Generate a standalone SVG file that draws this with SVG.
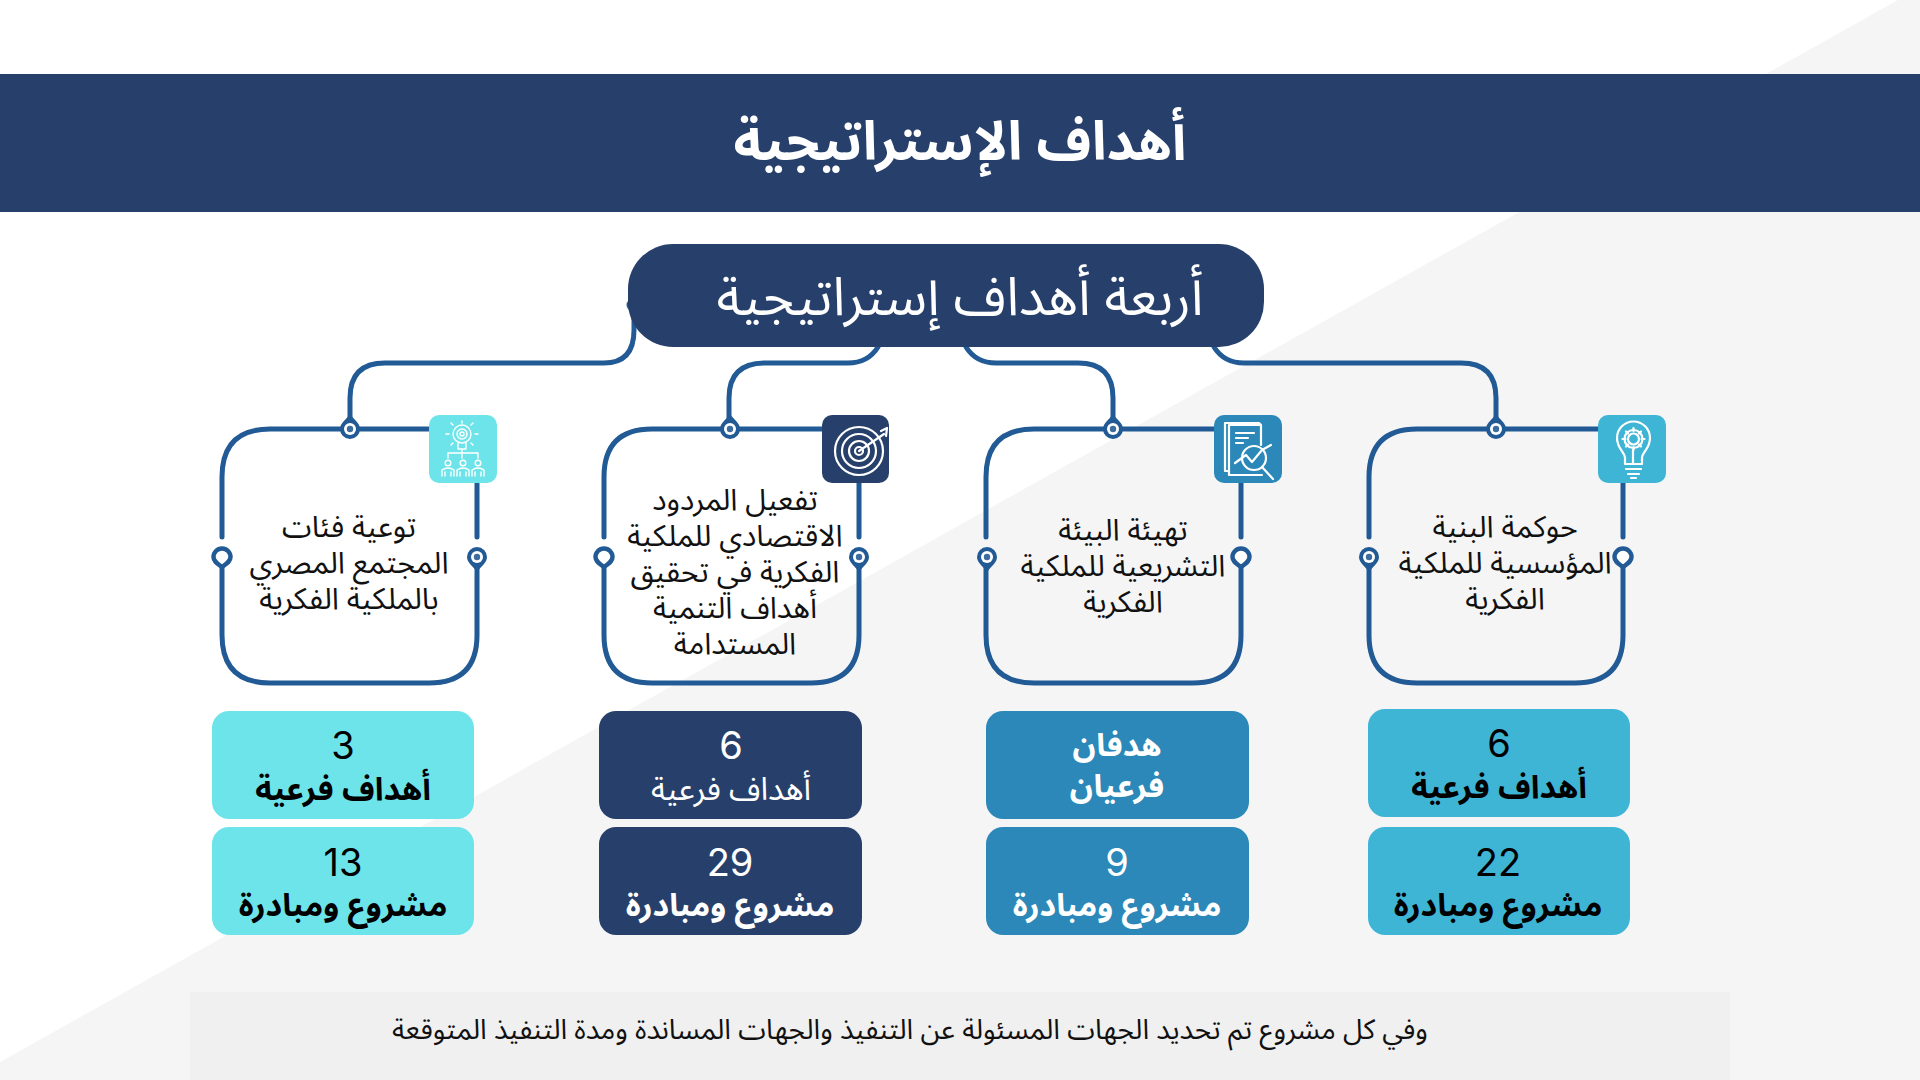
<svg xmlns="http://www.w3.org/2000/svg" width="1920" height="1080" viewBox="0 0 1920 1080">
<defs><style>
text{font-family:"Noto Sans Arabic","Noto Sans","DejaVu Sans",sans-serif;text-anchor:middle;direction:rtl}
.title{font-size:54px;font-weight:700;fill:#fff}
.pill{font-size:53.5px;fill:#fff}
.body{font-size:30px;fill:#111}
.num{font-family:"Inter","Open Sans",sans-serif;font-size:38px}
.sub{font-size:32px;font-weight:700}
.thin{font-size:32px;font-weight:400}
.foot{font-size:28px;fill:#111}
.w{fill:#fff}.k{fill:#000}
.line{fill:none;stroke:#215a94;stroke-width:5;stroke-linecap:round}
.icon{fill:none;stroke:#fff;stroke-width:2.2;stroke-linecap:round;stroke-linejoin:round}
</style>
<g id="pin-thick"><path d="M-10 0A10 10 0 0 0 10 0C10 -6 4 -9 0 -15C-4 -9 -10 -6 -10 0Z" fill="#215a94"/><circle r="6" fill="#fff"/><circle r="3.2" fill="#3d6d9f"/></g>
<path id="pin-thin" d="M-8.5 0A8.5 8.5 0 0 0 8.5 0C8.5 -4.5 4 -7 0 -10C-4 -7 -8.5 -4.5 -8.5 0Z" fill="#fff" stroke="#215a94" stroke-width="4.5"/>
</defs>
<rect id="bg" width="1920" height="1080" fill="#fff"/>
<polygon id="bg-diagonal" points="1898,0 1920,0 1920,1080 0,1080 0,1062" fill="#f5f5f6"/>
<g id="header"><rect y="74" width="1920" height="138" fill="#27406b"/><text class="title" x="960" y="160">أهداف الإستراتيجية</text></g>
<g id="connectors">
<path class="line" d="M634 305V330Q634 363 604 363H385Q350 363 350 398V429"/>
<circle cx="633" cy="305" r="6.5" fill="#215a94"/>
<path class="line" d="M878 347Q868 363 848 363H765Q729 363 729 398V429"/>
<path class="line" d="M966 347Q976 363 996 363H1078Q1113 363 1113 398V429"/>
<path class="line" d="M1214 347Q1224 363 1244 363H1461Q1496 363 1496 398V429"/>
</g>
<g id="root"><rect x="628" y="244" width="636" height="103" rx="45" fill="#27406b"/><text class="pill" x="960" y="315">أربعة أهداف إستراتيجية</text></g>
<g id="goal-1">
<path class="line" d="M429 429H270Q222 429 222 477V537M222 567V635Q222 683 270 683H429Q477 683 477 635V567M477 537V483"/>
<use href="#pin-thick" x="350" y="429"/>
<use href="#pin-thin" transform="translate(222 557) rotate(180)"/>
<use href="#pin-thick" transform="translate(477 557) rotate(180)"/>
<rect x="429" y="415" width="68" height="68" rx="10" fill="#6de4ea"/>
<g class="icon" style="stroke-width:1.4"><circle cx="462" cy="434" r="9"/><circle cx="462" cy="434" r="5"/><circle cx="462" cy="434" r="2"/><path d="M458 443V449H466V443M462 449V453M448 458V453H478V458M462 453V458M462 421V423M449 434H446M475 434H478M453 425L451 423M471 425L473 423M453 443L451 445M471 443L473 445"/><circle cx="448" cy="463" r="2.8"/><circle cx="463" cy="463" r="2.8"/><circle cx="478" cy="463" r="2.8"/><path d="M442 476V470Q448 466 454 470V476M457 476V470Q463 466 469 470V476M472 476V470Q478 466 484 470V476M445 476V472M451 476V472M460 476V472M466 476V472M475 476V472M481 476V472"/></g>
<text class="body"><tspan x="349" y="537">توعية فئات</tspan><tspan x="349" y="573">المجتمع المصري</tspan><tspan x="349" y="609">بالملكية الفكرية</tspan></text>
<rect x="212" y="711" width="262" height="108" rx="17" fill="#6de4ea"/><text class="k"><tspan class="num" x="343" y="759">3</tspan><tspan class="sub" x="343" y="800">أهداف فرعية</tspan></text>
<rect x="212" y="827" width="262" height="108" rx="17" fill="#6de4ea"/><text class="k"><tspan class="num" x="343" y="876" direction="ltr">13</tspan><tspan class="sub" x="343" y="916">مشروع ومبادرة</tspan></text>
</g>
<g id="goal-2">
<path class="line" d="M822 429H652Q604 429 604 477V537M604 567V635Q604 683 652 683H811Q859 683 859 635V567M859 537V483"/>
<use href="#pin-thick" x="730" y="429"/>
<use href="#pin-thin" transform="translate(604 557) rotate(180)"/>
<use href="#pin-thick" transform="translate(859 557) rotate(180)"/>
<rect x="822" y="415" width="67" height="68" rx="10" fill="#27406b"/>
<g class="icon"><circle cx="859" cy="451" r="24"/><circle cx="859" cy="451" r="17"/><circle cx="859" cy="451" r="10"/><circle cx="859" cy="451" r="4"/><path d="M859 451L884 434M881 431L887 428L886 436"/></g>
<text class="body"><tspan x="735" y="510">تفعيل المردود</tspan><tspan x="735" y="546">الاقتصادي للملكية</tspan><tspan x="735" y="582">الفكرية في تحقيق</tspan><tspan x="735" y="618">أهداف التنمية</tspan><tspan x="735" y="654">المستدامة</tspan></text>
<rect x="599" y="711" width="263" height="108" rx="17" fill="#27406b"/><text class="w"><tspan class="num" x="731" y="759">6</tspan><tspan class="thin" x="731" y="800">أهداف فرعية</tspan></text>
<rect x="599" y="827" width="263" height="108" rx="17" fill="#27406b"/><text class="w"><tspan class="num" x="730" y="876" direction="ltr">29</tspan><tspan class="sub" x="730" y="916">مشروع ومبادرة</tspan></text>
</g>
<g id="goal-3">
<path class="line" d="M1214 429H1034Q986 429 986 477V537M986 567V635Q986 683 1034 683H1193Q1241 683 1241 635V567M1241 537V483"/>
<use href="#pin-thick" x="1113" y="429"/>
<use href="#pin-thick" transform="translate(987 557) rotate(180)"/>
<use href="#pin-thin" transform="translate(1241 557) rotate(180)"/>
<rect x="1214" y="415" width="68" height="68" rx="10" fill="#2b88b8"/>
<g class="icon"><path d="M1229 471H1225V423H1259L1261 425M1229 425H1261V445M1229 425V475H1262"/><path d="M1236 433H1254M1236 438H1248M1236 443H1243"/><circle cx="1254" cy="458" r="12"/><path d="M1235 463L1246 455L1252 462L1262 450L1271 445M1262 467L1273 479"/></g>
<text class="body"><tspan x="1123" y="540">تهيئة البيئة</tspan><tspan x="1123" y="576">التشريعية للملكية</tspan><tspan x="1123" y="612">الفكرية</tspan></text>
<rect x="986" y="711" width="263" height="108" rx="17" fill="#2b88b8"/><text class="sub w"><tspan x="1117" y="756">هدفان</tspan><tspan x="1117" y="797">فرعيان</tspan></text>
<rect x="986" y="827" width="263" height="108" rx="17" fill="#2b88b8"/><text class="w"><tspan class="num" x="1117" y="876">9</tspan><tspan class="sub" x="1117" y="916">مشروع ومبادرة</tspan></text>
</g>
<g id="goal-4">
<path class="line" d="M1598 429H1417Q1369 429 1369 477V537M1369 567V635Q1369 683 1417 683H1575Q1623 683 1623 635V567M1623 537V483"/>
<use href="#pin-thick" x="1496" y="429"/>
<use href="#pin-thick" transform="translate(1369 557) rotate(180)"/>
<use href="#pin-thin" transform="translate(1623 557) rotate(180)"/>
<rect x="1598" y="415" width="68" height="68" rx="10" fill="#3fb5d6"/>
<g class="icon"><path d="M1625 464V458C1625 452 1617 449 1617 438A16.500 16.500 0 0 1 1650 438C1650 449 1642 452 1642 458V464ZM1626 469H1641M1628 474H1639M1631 478H1636M1633 464V450"/><circle cx="1633.500" cy="439" r="5.500"/><path d="M1633.500 428V431M1633.500 447V450M1622.500 439H1625.500M1641.500 439H1644.500M1626 431.500L1628 433.500M1639 444.500L1641 446.500M1641 431.500L1639 433.500M1628 444.500L1626 446.500"/><circle cx="1633.500" cy="439" r="9"/></g>
<text class="body"><tspan x="1505" y="537">حوكمة البنية</tspan><tspan x="1505" y="573">المؤسسية للملكية</tspan><tspan x="1505" y="609">الفكرية</tspan></text>
<rect x="1368" y="709" width="262" height="108" rx="17" fill="#3fb5d6"/><text class="k"><tspan class="num" x="1499" y="757">6</tspan><tspan class="sub" x="1499" y="798">أهداف فرعية</tspan></text>
<rect x="1368" y="827" width="262" height="108" rx="17" fill="#3fb5d6"/><text class="k"><tspan class="num" x="1498" y="876" direction="ltr">22</tspan><tspan class="sub" x="1498" y="916">مشروع ومبادرة</tspan></text>
</g>
<g id="footer"><rect x="190" y="992" width="1540" height="88" fill="#f0f0f0"/><text class="foot" x="910" y="1039">وفي كل مشروع تم تحديد الجهات المسئولة عن التنفيذ والجهات المساندة ومدة التنفيذ المتوقعة</text></g>
</svg>
